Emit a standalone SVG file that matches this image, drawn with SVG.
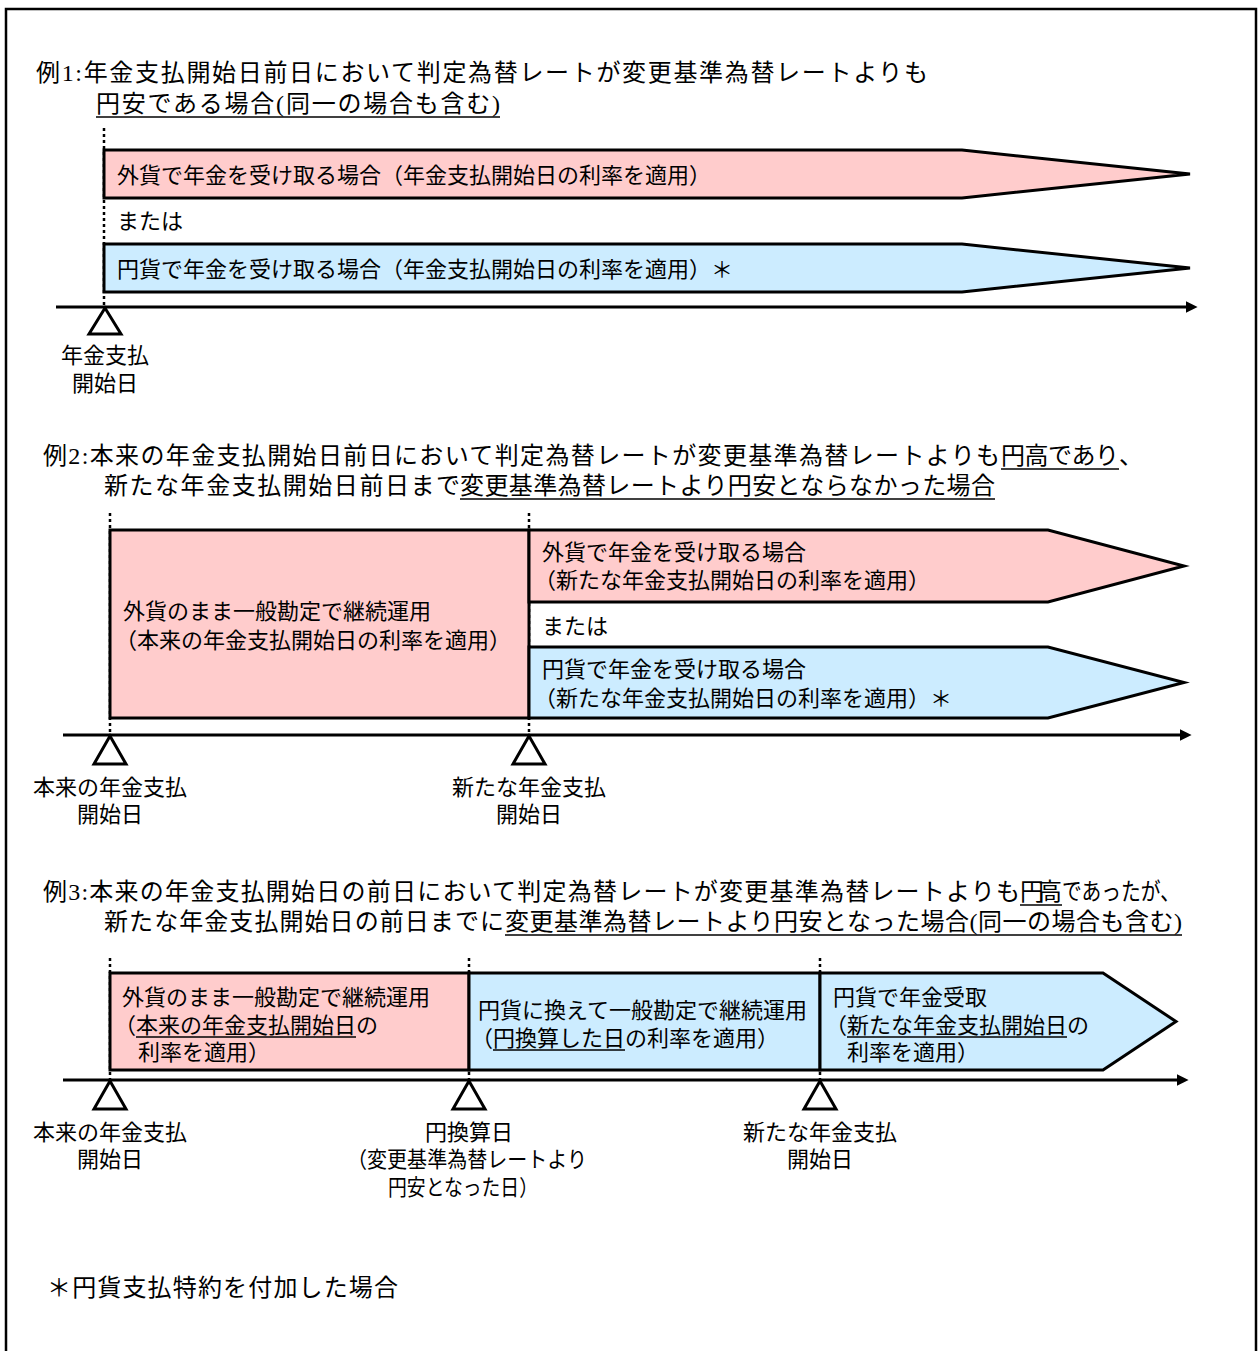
<svg xmlns="http://www.w3.org/2000/svg" width="1260" height="1351" viewBox="0 0 1260 1351">
<defs>
<style>
.t{font-family:"Liberation Serif","Noto Sans CJK JP",serif;fill:#000;dominant-baseline:central}
.h{font-size:24px}
.b{font-size:22px}
.m{text-anchor:middle}
.pink{fill:#FFCCCC;stroke:#000;stroke-width:3;stroke-linejoin:miter}
.blue{fill:#CCECFF;stroke:#000;stroke-width:3;stroke-linejoin:miter}
.dot{stroke:#000;stroke-width:2.5;stroke-dasharray:3 3;fill:none}
.axis{stroke:#000;stroke-width:3;fill:none}
.ul{stroke:#000;stroke-width:1.5}
.tri{fill:#fff;stroke:#000;stroke-width:3}
</style>
<marker id="ah" viewBox="0 0 10 10" refX="2" refY="5" markerWidth="4" markerHeight="4" orient="auto" markerUnits="strokeWidth">
<path d="M0,0 L10,5 L0,10 Z" fill="#000"/>
</marker>
</defs>
<rect x="6" y="9" width="1250" height="1380" fill="#fff" stroke="#000" stroke-width="2.5"/>

<!-- headers -->
<g id="header1">
<text class="t h" x="36" y="73" textLength="892" lengthAdjust="spacing">例1:年金支払開始日前日において判定為替レートが変更基準為替レートよりも</text>
<text class="t h" x="96" y="104" textLength="404" lengthAdjust="spacing">円安である場合(同一の場合も含む)</text>
<line class="ul" x1="96" y1="117" x2="500" y2="117"/>
</g>
<g id="header2">
<text class="t h" x="43" y="456" textLength="957" lengthAdjust="spacing">例2:本来の年金支払開始日前日において判定為替レートが変更基準為替レートよりも</text>
<text class="t h" x="1001" y="456" textLength="118" lengthAdjust="spacing">円高であり</text>
<text class="t h" x="1119" y="456">、</text>
<line class="ul" x1="1001" y1="469" x2="1119" y2="469"/>
<text class="t h" x="104" y="486" textLength="356" lengthAdjust="spacing">新たな年金支払開始日前日まで</text>
<text class="t h" x="460" y="486" textLength="535" lengthAdjust="spacing">変更基準為替レートより円安とならなかった場合</text>
<line class="ul" x1="460" y1="499" x2="995" y2="499"/>
</g>
<g id="header3">
<text class="t h" x="43" y="892" textLength="977" lengthAdjust="spacing">例3:本来の年金支払開始日の前日において判定為替レートが変更基準為替レートよりも</text>
<text class="t h" x="1020" y="892" textLength="42" lengthAdjust="spacing">円高</text>
<text class="t h" x="1062" y="892" textLength="118" lengthAdjust="spacingAndGlyphs">であったが、</text>
<line class="ul" x1="1020" y1="905" x2="1062" y2="905"/>
<text class="t h" x="104" y="922" textLength="400" lengthAdjust="spacing">新たな年金支払開始日の前日までに</text>
<text class="t h" x="505" y="922" textLength="677" lengthAdjust="spacing">変更基準為替レートより円安となった場合(同一の場合も含む)</text>
<line class="ul" x1="505" y1="935" x2="1182" y2="935"/>
</g>

<!-- connectors: timelines and dotted guides -->
<g id="connectors">
<line class="dot" x1="104" y1="128" x2="104" y2="307"/>
<line class="axis" x1="56" y1="307" x2="1188" y2="307" marker-end="url(#ah)"/>
<line class="dot" x1="110" y1="513" x2="110" y2="735"/>
<line class="dot" x1="529" y1="513" x2="529" y2="735"/>
<line class="axis" x1="63" y1="735" x2="1182" y2="735" marker-end="url(#ah)"/>
<line class="dot" x1="110" y1="958" x2="110" y2="1080"/>
<line class="dot" x1="469" y1="958" x2="469" y2="1080"/>
<line class="dot" x1="820" y1="958" x2="820" y2="1080"/>
<line class="axis" x1="63" y1="1080" x2="1179" y2="1080" marker-end="url(#ah)"/>
</g>

<!-- Example 1 -->
<g id="ex1-foreign">
<polygon class="pink" points="104,150 962,150 1190,174 962,198 104,198"/>
<text class="t b" x="117" y="175">外貨で年金を受け取る場合（年金支払開始日の利率を適用）</text>
</g>
<g id="ex1-or">
<text class="t b" x="117" y="221">または</text>
</g>
<g id="ex1-yen">
<polygon class="blue" points="104,244 962,244 1190,268 962,292 104,292"/>
<text class="t b" x="117" y="269">円貨で年金を受け取る場合（年金支払開始日の利率を適用）＊</text>
</g>
<g id="ex1-start">
<polygon class="tri" points="105,308 89,334 121,334"/>
<text class="t b m" x="105" y="355">年金支払</text>
<text class="t b m" x="105" y="383">開始日</text>
</g>

<!-- Example 2 -->
<g id="ex2-continue">
<rect class="pink" x="110" y="530" width="419" height="188"/>
<text class="t b" x="123" y="611">外貨のまま一般勘定で継続運用</text>
<text class="t b" x="115" y="640">（本来の年金支払開始日の利率を適用）</text>
</g>
<g id="ex2-foreign">
<polygon class="pink" points="529,530 1048,530 1184,566 1048,602 529,602"/>
<text class="t b" x="542" y="552">外貨で年金を受け取る場合</text>
<text class="t b" x="534" y="580">（新たな年金支払開始日の利率を適用）</text>
</g>
<g id="ex2-or">
<text class="t b" x="542" y="626">または</text>
</g>
<g id="ex2-yen">
<polygon class="blue" points="529,647 1048,647 1184,682.5 1048,718 529,718"/>
<text class="t b" x="542" y="669">円貨で年金を受け取る場合</text>
<text class="t b" x="534" y="698">（新たな年金支払開始日の利率を適用）＊</text>
</g>
<g id="ex2-original-start">
<polygon class="tri" points="110,736 94,764 126,764"/>
<text class="t b m" x="110" y="787">本来の年金支払</text>
<text class="t b m" x="110" y="814">開始日</text>
</g>
<g id="ex2-new-start">
<polygon class="tri" points="529,736 513,764 545,764"/>
<text class="t b m" x="529" y="787">新たな年金支払</text>
<text class="t b m" x="529" y="814">開始日</text>
</g>

<!-- Example 3 -->
<g id="ex3-continue">
<rect class="pink" x="110" y="973" width="359" height="97"/>
<text class="t b" x="122" y="997">外貨のまま一般勘定で継続運用</text>
<text class="t b" x="114" y="1025">（本来の年金支払開始日の</text>
<line class="ul" x1="136" y1="1037" x2="356" y2="1037"/>
<text class="t b" x="138" y="1052">利率を適用）</text>
</g>
<g id="ex3-yen-continue">
<rect class="blue" x="469" y="973" width="351" height="97"/>
<text class="t b" x="478" y="1010">円貨に換えて一般勘定で継続運用</text>
<text class="t b" x="471" y="1038">（円換算した日の利率を適用）</text>
<line class="ul" x1="493" y1="1050" x2="625" y2="1050"/>
</g>
<g id="ex3-yen-receive">
<polygon class="blue" points="820,973 1103,973 1176,1021.5 1103,1070 820,1070"/>
<text class="t b" x="833" y="997">円貨で年金受取</text>
<text class="t b" x="825" y="1025">（新たな年金支払開始日の</text>
<line class="ul" x1="847" y1="1037" x2="1067" y2="1037"/>
<text class="t b" x="847" y="1052">利率を適用）</text>
</g>
<g id="ex3-original-start">
<polygon class="tri" points="110,1081 94,1109 126,1109"/>
<text class="t b m" x="110" y="1132">本来の年金支払</text>
<text class="t b m" x="110" y="1159">開始日</text>
</g>
<g id="ex3-conversion-day">
<polygon class="tri" points="469,1081 453,1109 485,1109"/>
<text class="t b m" x="469" y="1132">円換算日</text>
<text class="t b" x="347" y="1159" textLength="240" lengthAdjust="spacingAndGlyphs">（変更基準為替レートより</text>
<text class="t b" x="388" y="1187" textLength="150" lengthAdjust="spacingAndGlyphs">円安となった日）</text>
</g>
<g id="ex3-new-start">
<polygon class="tri" points="820,1081 804,1109 836,1109"/>
<text class="t b m" x="820" y="1132">新たな年金支払</text>
<text class="t b m" x="820" y="1159">開始日</text>
</g>

<g id="footnote">
<text class="t h" x="47" y="1288" textLength="351" lengthAdjust="spacing">＊円貨支払特約を付加した場合</text>
</g>
</svg>
